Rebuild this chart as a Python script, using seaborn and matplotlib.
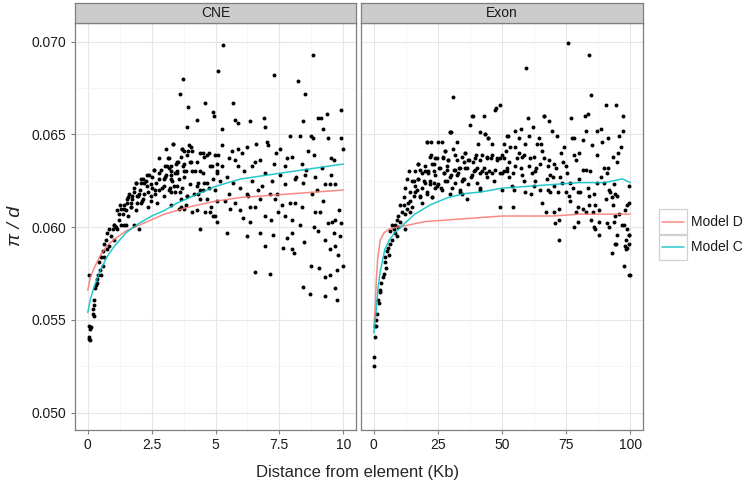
import numpy as np
import pandas as pd
import seaborn as sns
import matplotlib.pyplot as plt
from matplotlib.patches import Rectangle
from matplotlib.ticker import MultipleLocator

# ---- CNE points (distance Kb, pi/d) ----
cne_x = [0.03, 0.05, 0.06, 0.08, 0.09, 0.12, 0.03, 0.19, 0.2, 0.23, 0.25, 0.25, 0.28, 0.32,
         0.36, 0.38, 0.41, 0.45, 0.49, 0.51, 0.51, 0.58, 0.58, 0.64, 0.64, 0.71, 0.74, 0.77,
         0.84, 0.84, 0.9, 0.97, 1.03, 1.03, 1.1, 1.15, 1.23, 1.28, 1.3, 1.36, 1.43, 1.49,
         1.54, 1.56, 1.56, 1.7, 1.72, 1.82, 1.82, 1.88, 1.88, 1.95, 2.02, 2.02, 2.08, 2.08,
         2.15, 2.21, 2.34, 2.34, 2.38, 2.47, 2.49, 2.58, 2.62, 2.69, 2.72, 2.8, 2.8, 2.91,
         2.98, 2.98, 3.05, 3.05, 3.1, 3.13, 3.18, 3.21, 3.24, 3.24, 3.26, 3.26, 3.26, 3.34,
         3.35, 3.37, 3.44, 3.49, 3.49, 3.5, 3.52, 3.57, 3.61, 3.62, 3.63, 3.65, 3.7, 3.7,
         3.73, 3.74, 3.78, 3.78, 3.78, 3.83, 3.83, 3.87, 3.9, 3.9, 3.9, 3.92, 3.96, 4.02,
         4.02, 4.04, 4.04, 4.09, 4.09, 4.09, 4.15, 4.21, 4.28, 4.28, 4.28, 4.28, 4.3, 4.33,
         4.41, 4.41, 4.41, 4.41, 4.41, 4.5, 4.53, 4.53, 4.54, 4.54, 4.6, 4.6, 4.66, 4.66,
         4.67, 4.73, 4.73, 4.8, 4.8, 4.83, 4.86, 4.9, 4.9, 4.92, 4.93, 4.97, 4.99, 4.99,
         5.05, 5.05, 5.05, 5.06, 5.07, 5.09, 5.09, 5.18, 5.25, 5.25, 5.25, 5.28, 5.36, 5.44,
         5.44, 5.51, 5.51, 5.57, 5.64, 5.67, 5.7, 5.77, 5.77, 5.77, 5.87, 5.87, 5.9, 5.96,
         5.96, 6.03, 6.06, 6.13, 6.23, 6.23, 6.23, 6.29, 6.36, 6.36, 6.36, 6.42, 6.42, 6.55,
         6.55, 6.56, 6.59, 6.68, 6.75, 6.75, 6.75, 6.81, 6.88, 6.92, 6.92, 6.94, 6.94, 7.01,
         7.05, 7.14, 7.14, 7.18, 7.22, 7.27, 7.3, 7.3, 7.33, 7.37, 7.4, 7.46, 7.53, 7.53,
         7.59, 7.66, 7.72, 7.72, 7.72, 7.79, 7.79, 7.92, 7.92, 7.98, 7.98, 8.01, 8.01, 8.09,
         8.11, 8.11, 8.17, 8.23, 8.3, 8.32, 8.37, 8.4, 8.41, 8.41, 8.44, 8.48, 8.5, 8.52,
         8.54, 8.63, 8.69, 8.74, 8.74, 8.76, 8.8, 8.83, 8.84, 8.87, 8.88, 8.89, 8.96, 9.0,
         9.03, 9.05, 9.09, 9.13, 9.18, 9.22, 9.22, 9.27, 9.29, 9.29, 9.29, 9.38, 9.42, 9.42,
         9.47, 9.47, 9.47, 9.53, 9.53, 9.55, 9.62, 9.62, 9.66, 9.66, 9.68, 9.68, 9.77, 9.77,
         9.81, 9.82, 9.88, 9.91, 9.93, 9.93, 9.98, 9.99]
cne_y = [0.0547, 0.0541, 0.0540, 0.0539, 0.0545, 0.0546, 0.0574, 0.0556, 0.0553, 0.0558, 0.0561, 0.0552, 0.0567, 0.0569,
         0.0572, 0.0570, 0.0574, 0.0581, 0.0577, 0.0584, 0.0574, 0.0587, 0.0579, 0.0591, 0.0584, 0.0593, 0.0588, 0.0597,
         0.0599, 0.0590, 0.0595, 0.0599, 0.0601, 0.0593, 0.0600, 0.0609, 0.0604, 0.0612, 0.0601, 0.0607, 0.0610, 0.0601,
         0.0613, 0.0616, 0.0606, 0.0611, 0.0615, 0.0619, 0.0601, 0.0624, 0.0609, 0.0617, 0.0618, 0.0599, 0.0626, 0.0613,
         0.0615, 0.0624, 0.0619, 0.0611, 0.0628, 0.0614, 0.0623, 0.0631, 0.0620, 0.0624, 0.0613, 0.0629, 0.0637, 0.0621,
         0.0617, 0.0626, 0.0628, 0.0642, 0.0633, 0.0637, 0.0632, 0.0621, 0.0628, 0.0612, 0.0633, 0.0626, 0.0619, 0.0645,
         0.0645, 0.0622, 0.0634, 0.0630, 0.0622, 0.0629, 0.0635, 0.0610, 0.0672, 0.0619, 0.0615, 0.0638, 0.0642, 0.0621,
         0.0680, 0.0633, 0.0641, 0.0634, 0.0630, 0.0630, 0.0612, 0.0654, 0.0639, 0.0617, 0.0617, 0.0665, 0.0644, 0.0635,
         0.0623, 0.0643, 0.0635, 0.0641, 0.0630, 0.0608, 0.0618, 0.0630, 0.0658, 0.0635, 0.0622, 0.0609, 0.0618, 0.0624,
         0.0640, 0.0630, 0.0620, 0.0615, 0.0599, 0.0620, 0.0640, 0.0629, 0.0638, 0.0624, 0.0667, 0.0608, 0.0639, 0.0624,
         0.0615, 0.0640, 0.0621, 0.0633, 0.0608, 0.0611, 0.0633, 0.0606, 0.0662, 0.0626, 0.0660, 0.0639, 0.0620, 0.0606,
         0.0634, 0.0629, 0.0603, 0.0630, 0.0614, 0.0684, 0.0639, 0.0625, 0.0653, 0.0633, 0.0644, 0.0698, 0.0614, 0.0627,
         0.0597, 0.0637, 0.0618, 0.0610, 0.0641, 0.0667, 0.0624, 0.0658, 0.0636, 0.0613, 0.0656, 0.0642, 0.0633, 0.0621,
         0.0609, 0.0640, 0.0605, 0.0630, 0.0643, 0.0618, 0.0595, 0.0617, 0.0657, 0.0611, 0.0603, 0.0633, 0.0625, 0.0611,
         0.0576, 0.0635, 0.0645, 0.0620, 0.0636, 0.0615, 0.0597, 0.0622, 0.0659, 0.0654, 0.0606, 0.0629, 0.0590, 0.0646,
         0.0644, 0.0618, 0.0575, 0.0604, 0.0625, 0.0596, 0.0682, 0.0634, 0.0615, 0.0640, 0.0618, 0.0608, 0.0642, 0.0628,
         0.0612, 0.0589, 0.0633, 0.0623, 0.0606, 0.0637, 0.0594, 0.0649, 0.0613, 0.0604, 0.0588, 0.0638, 0.0597, 0.0586,
         0.0626, 0.0613, 0.0627, 0.0679, 0.0601, 0.0649, 0.0634, 0.0611, 0.0624, 0.0568, 0.0657, 0.0592, 0.0672, 0.0628,
         0.0631, 0.0641, 0.0564, 0.0649, 0.0579, 0.0618, 0.0693, 0.0648, 0.0600, 0.0639, 0.0627, 0.0608, 0.0620, 0.0659,
         0.0598, 0.0578, 0.0608, 0.0659, 0.0632, 0.0614, 0.0653, 0.0623, 0.0593, 0.0573, 0.0563, 0.0661, 0.0648, 0.0602,
         0.0623, 0.0588, 0.0574, 0.0637, 0.0628, 0.0603, 0.0636, 0.0597, 0.0623, 0.0604, 0.0590, 0.0567, 0.0577, 0.0561,
         0.0585, 0.0609, 0.0595, 0.0663, 0.0648, 0.0602, 0.0642, 0.0579]

# extra CNE points from the dense band between 1 and 4 Kb
cne_x_band = [3.69, 3.92, 3.17, 3.5, 3.04, 2.88, 3.24, 2.59, 3.43, 2.33, 2.52, 2.17, 2.07, 2.26,
              1.87, 2.78, 3.04, 3.3, 3.56, 3.76, 1.81, 2.04, 2.33, 2.52, 2.78, 2.98, 3.17, 3.43,
              1.61, 1.74, 1.94, 2.2, 2.46, 2.65, 1.55, 1.7, 1.94, 2.13, 1.42, 1.29, 1.48, 1.22,
              1.68, 3.63, 3.76, 1.03, 1.16, 1.42]
cne_y_band = [0.0642, 0.0641, 0.0637, 0.0635, 0.0633, 0.0631, 0.0630, 0.0631, 0.0629, 0.0628, 0.0627, 0.0626, 0.0624, 0.0625,
              0.0624, 0.0626, 0.0627, 0.0625, 0.0626, 0.0627, 0.0621, 0.0620, 0.0622, 0.0621, 0.0620, 0.0622, 0.0620, 0.0619,
              0.0618, 0.0617, 0.0617, 0.0618, 0.0617, 0.0618, 0.0615, 0.0613, 0.0613, 0.0614, 0.0612, 0.0610, 0.0609, 0.0607,
              0.0611, 0.0611, 0.0610, 0.0601, 0.0599, 0.0601]

# ---- Exon points ----
exon_x = [0.1, 0.1, 0.3, 0.5, 0.8, 0.9, 1.3, 1.8, 2.1, 2.3, 2.5, 2.9, 3.4, 3.8, 4.2, 4.4, 4.7,
          5.1, 5.7, 6.0, 6.4, 6.4, 7.0, 7.0, 7.7, 8.3, 8.3, 9.0, 9.0, 9.6, 9.6, 10.3, 10.3, 10.9,
          11.6, 11.6, 12.0, 12.2, 12.2, 12.9, 12.9, 13.5, 13.8, 14.2, 14.2, 14.8, 15.5, 15.9, 16.1,
          17.2, 17.4, 18.1, 18.1, 18.7, 19.4, 20.0, 20.7, 20.7, 20.9, 21.3, 22.0, 22.0, 22.2, 22.6,
          22.6, 23.3, 23.6, 23.9, 24.6, 25.2, 25.5, 26.3, 26.5, 26.8, 27.2, 27.8, 27.8, 28.5, 29.1,
          29.8, 30.0, 30.2, 30.8, 30.8, 31.5, 31.7, 32.4, 32.8, 33.3, 33.7, 34.3, 34.3, 34.6, 35.6,
          35.6, 36.3, 36.9, 37.6, 38.0, 38.2, 38.5, 38.5, 39.5, 39.9, 40.8, 41.5, 41.5, 41.5, 42.1,
          43.1, 43.2, 43.7, 44.1, 44.7, 45.8, 46.0, 46.0, 47.3, 47.6, 48.0, 49.3, 49.3, 49.3, 50.0,
          50.6, 50.9, 51.6, 51.9, 52.2, 52.6, 52.9, 53.2, 53.9, 54.1, 54.2, 54.5, 55.2, 55.2, 55.2,
          55.8, 56.5, 56.5, 57.4, 57.4, 57.8, 57.8, 58.4, 58.7, 59.1, 59.1, 59.4, 60.1, 60.4, 60.7,
          61.1, 61.3, 61.6, 62.0, 62.3, 62.3, 62.9, 62.9, 63.3, 63.6, 64.3, 64.9, 64.9, 65.2, 65.6,
          65.6, 66.2, 66.4, 66.5, 67.2, 67.5, 67.8, 67.8, 68.5, 68.5, 68.8, 68.8, 69.5, 69.8, 70.1,
          70.1, 70.1, 70.8, 71.1, 71.4, 72.0, 72.1, 72.2, 72.4, 72.7, 73.0, 73.4, 73.6, 74.0, 74.8,
          75.0, 75.3, 75.9, 76.0, 76.6, 76.6, 77.0, 77.3, 77.7, 77.9, 78.2, 78.2, 78.9, 79.0, 79.5,
          79.8, 79.8, 80.2, 80.2, 80.5, 81.5, 81.5, 81.5, 82.5, 82.8, 82.8, 82.8, 83.4, 83.4, 83.8,
          84.1, 84.1, 84.4, 84.7, 84.8, 85.1, 85.4, 85.7, 85.7, 86.3, 86.3, 87.0, 87.0, 87.0, 88.0,
          88.0, 88.0, 88.6, 88.7, 89.0, 89.6, 89.9, 90.6, 90.6, 90.9, 90.9, 91.2, 91.2, 91.9, 91.9,
          92.2, 92.9, 92.9, 93.2, 93.2, 93.5, 93.5, 94.2, 94.2, 94.2, 94.5, 94.5, 94.8, 94.8, 94.8,
          95.1, 95.5, 95.8, 96.4, 96.7, 97.1, 97.1, 97.7, 97.7, 98.1, 98.1, 98.4, 98.5, 98.7, 98.7,
          98.7, 99.4, 99.4, 99.5, 99.6, 99.7, 99.7, 100.0]
exon_y = [0.0530, 0.0525, 0.0541, 0.0547, 0.0547, 0.0550, 0.0553, 0.0561, 0.0559, 0.0565, 0.0566, 0.0570, 0.0573, 0.0575, 0.0581, 0.0584, 0.0578,
          0.0587, 0.0589, 0.0585, 0.0591, 0.0598, 0.0593, 0.0601, 0.0599, 0.0601, 0.0597, 0.0604, 0.0595, 0.0606, 0.0600, 0.0612, 0.0603, 0.0608,
          0.0616, 0.0612, 0.0621, 0.0607, 0.0599, 0.0626, 0.0610, 0.0613, 0.0630, 0.0619, 0.0608, 0.0611, 0.0625, 0.0619, 0.0622,
          0.0634, 0.0626, 0.0631, 0.0617, 0.0621, 0.0625, 0.0630, 0.0646, 0.0618, 0.0646, 0.0629, 0.0638, 0.0623, 0.0646, 0.0634,
          0.0616, 0.0624, 0.0630, 0.0637, 0.0622, 0.0646, 0.0632, 0.0621, 0.0646, 0.0637, 0.0629, 0.0641, 0.0625, 0.0631, 0.0636,
          0.0651, 0.0651, 0.0628, 0.0642, 0.0670, 0.0631, 0.0639, 0.0646, 0.0629, 0.0632, 0.0620, 0.0638, 0.0618, 0.0626, 0.0640,
          0.0632, 0.0615, 0.0636, 0.0655, 0.0627, 0.0660, 0.0660, 0.0635, 0.0631, 0.0639, 0.0645, 0.0651, 0.0636, 0.0621, 0.0630,
          0.0660, 0.0650, 0.0629, 0.0637, 0.0648, 0.0637, 0.0645, 0.0629, 0.0663, 0.0664, 0.0636, 0.0637, 0.0611, 0.0666, 0.0629,
          0.0637, 0.0645, 0.0641, 0.0632, 0.0649, 0.0635, 0.0627, 0.0643, 0.0622, 0.0611, 0.0629, 0.0620, 0.0652, 0.0643, 0.0633,
          0.0637, 0.0648, 0.0640, 0.0653, 0.0632, 0.0638, 0.0628, 0.0639, 0.0625, 0.0645, 0.0619, 0.0686, 0.0659, 0.0649, 0.0633,
          0.0637, 0.0618, 0.0629, 0.0654, 0.0638, 0.0622, 0.0630, 0.0625, 0.0632, 0.0645, 0.0648, 0.0634, 0.0620, 0.0645, 0.0641,
          0.0613, 0.0637, 0.0660, 0.0660, 0.0608, 0.0626, 0.0633, 0.0620, 0.0657, 0.0636, 0.0628, 0.0619, 0.0652, 0.0627, 0.0634,
          0.0622, 0.0608, 0.0602, 0.0632, 0.0649, 0.0619, 0.0604, 0.0593, 0.0610, 0.0627, 0.0640, 0.0624, 0.0635, 0.0643, 0.0633,
          0.0619, 0.0629, 0.0699, 0.0617, 0.0624, 0.0614, 0.0659, 0.0648, 0.0621, 0.0639, 0.0648, 0.0600, 0.0636, 0.0608, 0.0619,
          0.0611, 0.0603, 0.0640, 0.0626, 0.0619, 0.0647, 0.0631, 0.0610, 0.0660, 0.0652, 0.0631, 0.0608, 0.0661, 0.0621, 0.0693,
          0.0617, 0.0612, 0.0630, 0.0604, 0.0671, 0.0644, 0.0608, 0.0618, 0.0600, 0.0612, 0.0599, 0.0652, 0.0639, 0.0624, 0.0609,
          0.0603, 0.0596, 0.0627, 0.0653, 0.0646, 0.0624, 0.0632, 0.0666, 0.0615, 0.0629, 0.0602, 0.0648, 0.0632, 0.0620, 0.0600,
          0.0619, 0.0616, 0.0586, 0.0638, 0.0612, 0.0623, 0.0603, 0.0618, 0.0606, 0.0591, 0.0666, 0.0591, 0.0635, 0.0617, 0.0596,
          0.0640, 0.0607, 0.0649, 0.0643, 0.0601, 0.0660, 0.0652, 0.0601, 0.0579, 0.0609, 0.0590, 0.0593, 0.0588, 0.0612, 0.0599,
          0.0589, 0.0613, 0.0596, 0.0596, 0.0591, 0.0622, 0.0574, 0.0574]

# extra Exon points from the dense band between 14 and 52 Kb
exon_x_band = [29.8, 43.4, 44.7, 51.9, 27.8, 35.6, 22.2, 24.6, 26.9, 29.1, 32.4, 35.0, 37.3, 39.5,
               42.1, 44.1, 46.0, 48.2, 49.9, 17.4, 20.0, 23.3, 25.9, 28.5, 31.1, 33.7, 36.3, 38.9,
               40.2, 42.8, 45.1, 47.3, 50.6, 16.1, 18.7, 21.3, 23.9, 27.2, 29.8, 32.4, 35.0, 38.2,
               41.5, 44.1, 49.3, 51.9, 14.8, 17.4, 20.0, 22.0, 25.2, 28.5, 31.7, 34.3, 36.9, 40.2,
               46.7, 16.8, 20.7, 23.9, 26.5, 30.4, 33.7, 41.5, 50.0, 15.5, 18.1, 22.6, 29.8, 14.2,
               18.7]
exon_y_band = [0.0651, 0.0650, 0.0648, 0.0649, 0.0641, 0.0640, 0.0639, 0.0637, 0.0638, 0.0636, 0.0636, 0.0635, 0.0636, 0.0637,
               0.0639, 0.0638, 0.0639, 0.0637, 0.0639, 0.0634, 0.0633, 0.0634, 0.0632, 0.0633, 0.0631, 0.0632, 0.0632, 0.0630,
               0.0632, 0.0632, 0.0630, 0.0631, 0.0630, 0.0630, 0.0629, 0.0630, 0.0628, 0.0629, 0.0627, 0.0628, 0.0626, 0.0628,
               0.0629, 0.0627, 0.0629, 0.0630, 0.0625, 0.0626, 0.0624, 0.0625, 0.0623, 0.0625, 0.0624, 0.0625, 0.0623, 0.0624,
               0.0625, 0.0620, 0.0619, 0.0621, 0.0620, 0.0621, 0.0619, 0.0620, 0.0620, 0.0617, 0.0616, 0.0616, 0.0618, 0.0614,
               0.0613]

# ---- model curves ----
cne_line_x = [0, 0.1, 0.25, 0.5, 0.75, 1.0, 1.5, 2.0, 2.5, 3.0, 3.5, 4.0, 5.0, 6.0, 7.0, 8.0, 9.0, 10.0]
cne_model_d = [0.0566, 0.0573, 0.0578, 0.0585, 0.0590, 0.0593, 0.0598, 0.0601, 0.0604, 0.0607, 0.0609,
               0.0611, 0.0614, 0.0616, 0.0617, 0.0618, 0.0619, 0.0620]
cne_model_c = [0.0554, 0.0561, 0.0568, 0.0577, 0.0584, 0.0589, 0.0597, 0.0602, 0.0606, 0.0609, 0.0613,
               0.0616, 0.0622, 0.0626, 0.0628, 0.0630, 0.0632, 0.0634]

exon_d_x = [0, 0.5, 1.0, 1.5, 2.5, 4, 6, 9, 13, 20, 30, 40, 50, 60, 70, 80, 90, 100]
exon_model_d = [0.0546, 0.0556, 0.0572, 0.0583, 0.0593, 0.0597, 0.0599, 0.0600, 0.0601, 0.0603, 0.0604,
                0.0605, 0.0606, 0.0606, 0.0606, 0.0607, 0.0607, 0.0607]
exon_c_x = [0, 0.5, 1, 1.7, 2.5, 4.3, 6, 8.2, 12, 16, 22, 29, 35, 42, 50, 60, 70, 80, 90, 97, 100]
exon_model_c = [0.0543, 0.0549, 0.0556, 0.0568, 0.0576, 0.0588, 0.0593, 0.0597, 0.0602, 0.0607, 0.0612,
                0.0616, 0.0618, 0.0619, 0.0621, 0.0622, 0.0623, 0.0624, 0.0624, 0.0626, 0.0624]

panels = ["CNE", "Exon"]
models = ["Model D", "Model C"]
colors = {"Model D": "#F8766D", "Model C": "#00BFC4"}

pts = pd.concat([
    pd.DataFrame({"panel": "CNE", "x": cne_x + cne_x_band, "y": cne_y + cne_y_band}),
    pd.DataFrame({"panel": "Exon", "x": exon_x + exon_x_band, "y": exon_y + exon_y_band}),
])
lines = pd.concat([
    pd.DataFrame({"panel": "CNE", "model": "Model D", "x": cne_line_x, "y": cne_model_d}),
    pd.DataFrame({"panel": "CNE", "model": "Model C", "x": cne_line_x, "y": cne_model_c}),
    pd.DataFrame({"panel": "Exon", "model": "Model D", "x": exon_d_x, "y": exon_model_d}),
    pd.DataFrame({"panel": "Exon", "model": "Model C", "x": exon_c_x, "y": exon_model_c}),
])

sns.set_style("white")
plt.rcParams["font.family"] = ["Liberation Sans", "DejaVu Sans"]

W, H = 744, 486
fig = plt.figure(figsize=(W / 100, H / 100), dpi=100)

# panel boxes in pixels: left, right, x limits, tick step
boxes = {"CNE": (75, 356, -0.5, 10.5, 2.5), "Exon": (361, 643, -5, 105, 25)}
top, bottom = 23, 430

for name in panels:
    l, r, xmin, xmax, step = boxes[name]
    ax = fig.add_axes([l / W, 1 - bottom / H, (r - l) / W, (bottom - top) / H])
    sns.scatterplot(data=pts[pts.panel == name], x="x", y="y", ax=ax, color="black",
                    s=8, linewidth=0, zorder=3)
    sns.lineplot(data=lines[lines.panel == name], x="x", y="y", hue="model",
                 hue_order=models, palette=colors, estimator=None, sort=False,
                 lw=1.1, alpha=0.85, ax=ax, legend=False, zorder=4)
    ax.set_xlim(xmin, xmax)
    ax.set_ylim(0.04907, 0.0710)
    ax.xaxis.set_major_locator(MultipleLocator(step))
    ax.xaxis.set_minor_locator(MultipleLocator(step / 2))
    ax.yaxis.set_major_locator(MultipleLocator(0.005))
    ax.yaxis.set_minor_locator(MultipleLocator(0.0025))
    ax.grid(which="major", color="#E6E6E6", lw=0.8)
    ax.grid(which="minor", color="#F5F5F5", lw=0.6)
    ax.set_axisbelow(True)
    for sp in ax.spines.values():
        sp.set_color("#7F7F7F")
        sp.set_linewidth(0.9)
    ax.tick_params(which="major", length=3, width=0.8, color="#7F7F7F",
                   labelsize=10, labelcolor="#1A1A1A", pad=3,
                   bottom=True, left=(name == "CNE"), labelleft=(name == "CNE"))
    ax.tick_params(which="minor", length=0)
    ax.set_xlabel("")
    ax.set_ylabel("")
    if name == "CNE":
        ax.xaxis.set_major_formatter(plt.FuncFormatter(lambda v, p: f"{v:g}"))
        ax.yaxis.set_major_formatter(plt.FuncFormatter(lambda v, p: f"{v:.3f}"))

    # facet strip
    sax = fig.add_axes([l / W, 1 - top / H, (r - l) / W, 20 / H])
    sax.set_facecolor("#CCCCCC")
    sax.set_xticks([])
    sax.set_yticks([])
    for sp in sax.spines.values():
        sp.set_color("#7F7F7F")
        sp.set_linewidth(0.9)
    sax.text(0.5, 0.5, name, ha="center", va="center", fontsize=10, color="#1A1A1A")

fig.text(358 / W, 1 - 472 / H, "Distance from element (Kb)", ha="center", va="center", fontsize=12)
fig.text(15 / W, 1 - 226 / H, "π / d", ha="center", va="center", fontsize=14,
         rotation=90, style="italic")

# legend keys
for i, m in enumerate(models):
    y0 = 209 + i * 25.5
    fig.patches.append(Rectangle((659 / W, 1 - (y0 + 25.5) / H), 28 / W, 25.5 / H,
                                 transform=fig.transFigure, facecolor="white",
                                 edgecolor="#D0D0D0", lw=0.9))
    yc = 1 - (y0 + 12.75) / H
    fig.lines.append(plt.Line2D([662 / W, 684 / W], [yc, yc], transform=fig.transFigure,
                                color=colors[m], lw=1.1, alpha=0.85))
    fig.text(691 / W, yc, m, ha="left", va="center", fontsize=10, color="#1A1A1A")

fig.savefig("out.png", dpi=100)
